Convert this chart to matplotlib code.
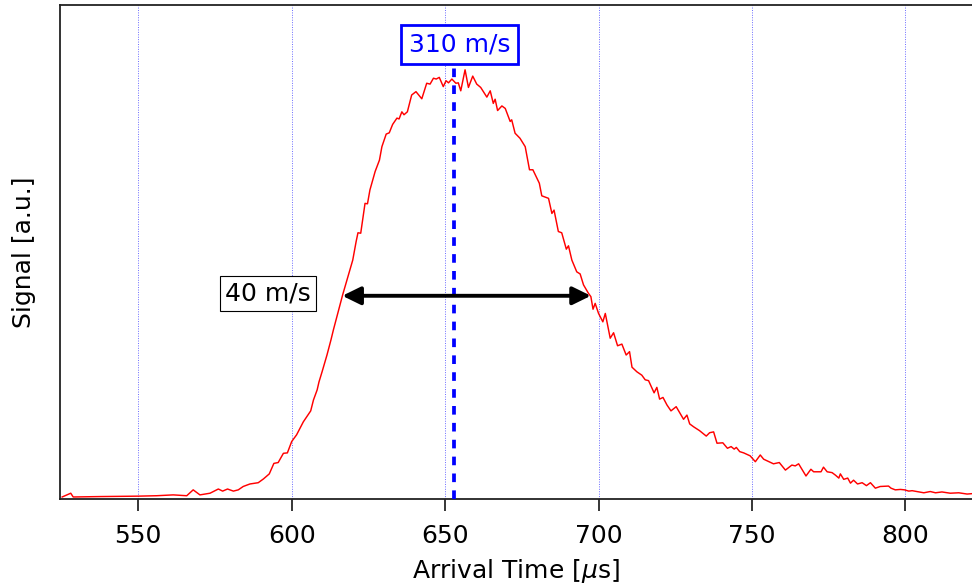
import matplotlib
matplotlib.use("Agg")
import matplotlib.pyplot as plt
from matplotlib.patches import FancyArrowPatch

# Arrival time (µs) and signal (a.u.)
time_us = [525.2, 528.0, 528.8, 537.5, 550.0, 556.0, 561.4, 565.8, 567.9, 570.1,
           573.4, 576.1, 577.5, 579.1, 581.0, 582.6, 584.2, 586.4, 589.1, 590.8,
           592.7, 594.2, 595.6, 597.3, 598.6, 600.0, 601.6, 603.8, 606.2, 607.1,
           608.3, 608.9, 609.9, 611.5, 612.8, 613.6, 616.6, 619.9, 621.0, 621.6,
           622.5, 623.9, 624.7, 625.5, 627.2, 628.6, 629.4, 630.8, 631.8, 632.9,
           634.3, 635.0, 635.9, 636.6, 637.7, 639.1, 640.5, 642.4, 644.0, 645.1,
           646.2, 647.1, 648.1, 649.4, 650.3, 651.1, 652.2, 653.5, 654.3, 655.1,
           656.5, 657.6, 659.0, 660.3, 661.6, 663.6, 664.7, 665.7, 666.3, 667.1,
           668.5, 669.6, 671.2, 671.7, 672.8, 674.4, 676.1, 677.5, 678.6, 680.7,
           681.5, 683.7, 684.8, 685.5, 686.9, 688.0, 689.5, 690.2, 691.3, 692.9,
           694.0, 695.1, 696.7, 697.5, 698.2, 698.9, 700.0, 701.4, 702.2, 703.8,
           704.9, 706.2, 707.6, 709.0, 710.1, 710.9, 712.5, 714.1, 715.2, 716.3,
           718.1, 719.0, 719.9, 721.0, 722.3, 723.6, 725.3, 726.6, 727.7, 728.8,
           729.7, 731.0, 732.9, 735.1, 736.2, 737.5, 738.6, 740.5, 742.0, 743.2,
           744.2, 744.9, 746.0, 747.3, 749.4, 751.1, 752.7, 753.8, 757.0, 758.9,
           760.9, 763.0, 764.1, 765.2, 767.6, 769.2, 770.1, 772.5, 773.3, 774.5,
           776.1, 777.2, 778.3, 778.8, 779.9, 781.2, 782.1, 783.1, 784.4, 785.9,
           787.3, 788.6, 790.2, 791.8, 794.5, 795.3, 796.7, 798.4, 799.7, 801.1,
           802.2, 803.8, 806.0, 808.1, 809.8, 811.9, 814.6, 817.4, 820.1, 821.8]
signal = [0.000, 0.009, 0.000, 0.001, 0.002, 0.003, 0.005, 0.003, 0.017, 0.005,
          0.009, 0.019, 0.014, 0.019, 0.014, 0.017, 0.025, 0.031, 0.034, 0.043,
          0.055, 0.080, 0.082, 0.104, 0.105, 0.132, 0.148, 0.179, 0.205, 0.231,
          0.255, 0.274, 0.298, 0.338, 0.374, 0.398, 0.481, 0.564, 0.608, 0.629,
          0.628, 0.699, 0.698, 0.731, 0.775, 0.802, 0.834, 0.864, 0.867, 0.887,
          0.902, 0.900, 0.917, 0.910, 0.917, 0.957, 0.965, 0.948, 0.985, 0.983,
          0.997, 0.995, 0.999, 0.977, 0.991, 0.986, 0.995, 0.985, 0.986, 0.967,
          1.017, 0.975, 1.002, 0.983, 0.975, 0.952, 0.967, 0.937, 0.947, 0.920,
          0.931, 0.925, 0.894, 0.898, 0.866, 0.854, 0.834, 0.779, 0.779, 0.747,
          0.717, 0.711, 0.675, 0.683, 0.632, 0.629, 0.590, 0.598, 0.564, 0.536,
          0.531, 0.505, 0.485, 0.477, 0.447, 0.461, 0.437, 0.417, 0.437, 0.378,
          0.391, 0.360, 0.364, 0.338, 0.346, 0.309, 0.298, 0.290, 0.279, 0.277,
          0.248, 0.261, 0.233, 0.237, 0.219, 0.205, 0.215, 0.199, 0.185, 0.195,
          0.174, 0.167, 0.158, 0.145, 0.153, 0.155, 0.128, 0.129, 0.116, 0.120,
          0.114, 0.118, 0.108, 0.105, 0.098, 0.084, 0.100, 0.090, 0.079, 0.082,
          0.064, 0.076, 0.074, 0.079, 0.050, 0.066, 0.060, 0.060, 0.071, 0.060,
          0.058, 0.052, 0.045, 0.055, 0.042, 0.045, 0.033, 0.040, 0.031, 0.034,
          0.027, 0.034, 0.021, 0.025, 0.026, 0.021, 0.017, 0.018, 0.017, 0.014,
          0.015, 0.013, 0.010, 0.013, 0.010, 0.012, 0.009, 0.010, 0.007, 0.008]

x_ticks = [550, 600, 650, 700, 750, 800]
peak_time = 653.0          # most probable arrival time
peak_label = "310 m/s"
fwhm_left, fwhm_right, half_max = 616.5, 697.5, 0.479
fwhm_label = "40 m/s"

fig = plt.figure(figsize=(9.72, 5.85), dpi=100)
ax = fig.add_axes([60/972, 1 - 499.3/585, 1 - 60/972, (499.3 - 4.7)/585])

ax.set_xlim(524.5, 821.7)
ax.set_ylim(-0.0055, 1.172)

for t in x_ticks:
    ax.axvline(t, color="#6a6aff", lw=0.7, ls=(0, (1, 1.5)), zorder=1)

ax.plot(time_us, signal, color="#ff0000", lw=1.05, zorder=3)

ax.plot([peak_time, peak_time], [-0.0055, 1.022], color="#0000ff", lw=2.7,
        ls=(0, (2.3, 2.2)), zorder=4, solid_capstyle="butt", dash_capstyle="butt")

arrow = FancyArrowPatch((fwhm_left, half_max), (fwhm_right, half_max),
                        arrowstyle="<|-|>,head_length=0.55,head_width=0.27",
                        mutation_scale=20, lw=2.8, color="black", zorder=5,
                        shrinkA=0, shrinkB=0)
ax.add_patch(arrow)

ax.text(654.7, 1.077, peak_label, color="#0000ff", fontsize=18,
        ha="center", va="center", zorder=6,
        bbox=dict(boxstyle="square,pad=0.3", fc="white", ec="#0000ff", lw=2.0))
ax.text(592.3, 0.484, fwhm_label, color="black", fontsize=18,
        ha="center", va="center", zorder=6,
        bbox=dict(boxstyle="square,pad=0.22", fc="white", ec="black", lw=0.8))

ax.set_xticks(x_ticks)
ax.set_xticklabels([str(t) for t in x_ticks])
ax.set_yticks([])
ax.tick_params(axis="x", direction="out", length=8.5, width=1.1, pad=9,
               labelsize=18, top=False)
ax.spines["right"].set_visible(False)
for s in ["left", "top", "bottom"]:
    ax.spines[s].set_linewidth(1.3)
    ax.spines[s].set_color("#222222")

ax.set_xlabel(r"Arrival Time [$\mu$s]", fontsize=18, labelpad=7)
ax.set_ylabel("Signal [a.u.]", fontsize=18, labelpad=17)

fig.savefig("out.png", dpi=100)
